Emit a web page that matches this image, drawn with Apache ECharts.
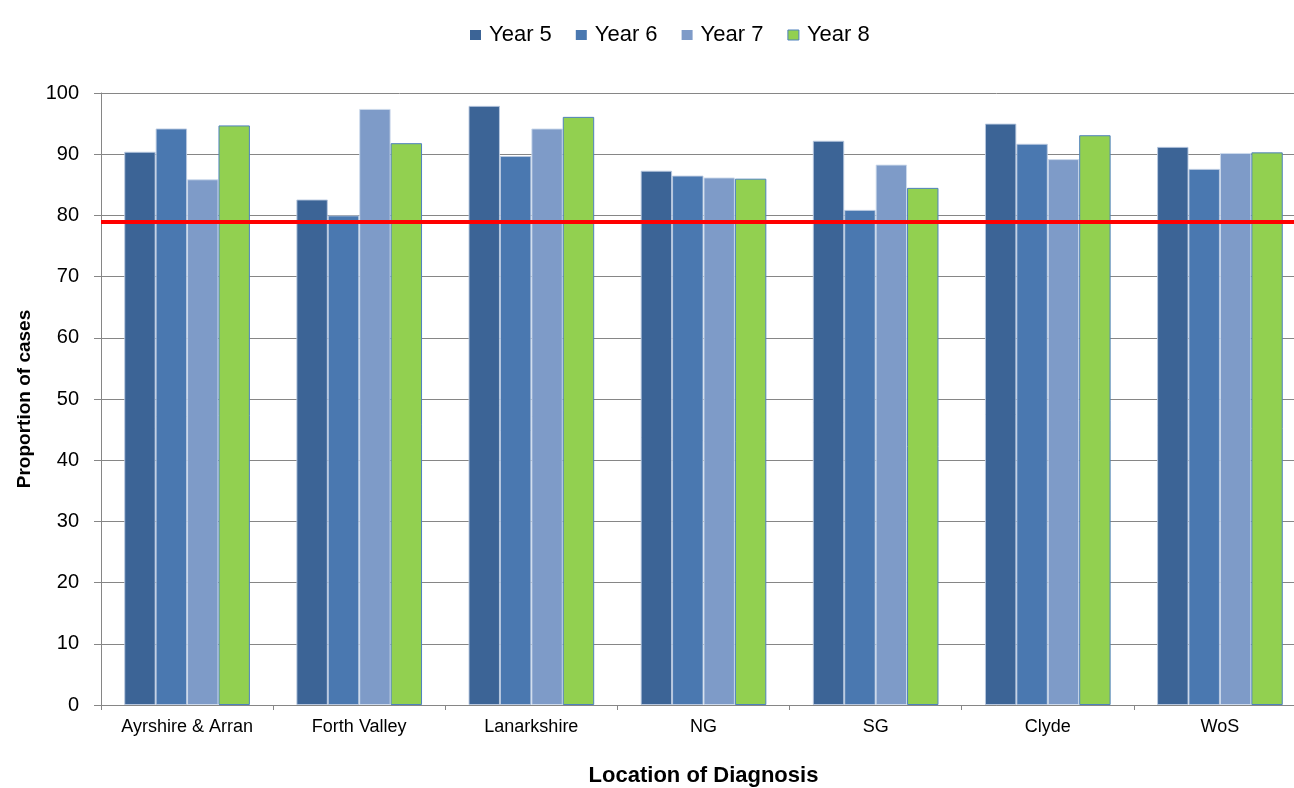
<!DOCTYPE html>
<html>
<head>
<meta charset="utf-8">
<title>Proportion of cases by location of diagnosis</title>
<script src="https://cdn.jsdelivr.net/npm/echarts@6/dist/echarts.min.js"></script>
<style>
  html, body { margin: 0; padding: 0; background: #ffffff; }
  #chart { width: 1294px; height: 788px; }
</style>
</head>
<body>
<div id="chart"></div>
<script>
// Locations along the x axis
const categories = ['Ayrshire & Arran', 'Forth Valley', 'Lanarkshire', 'NG', 'SG', 'Clyde', 'WoS'];

// Proportion of cases per year (%)
const year5 = [90.4, 82.6, 97.9, 87.3, 92.2, 95.0, 91.2];
const year6 = [94.2, 80.0, 89.7, 86.5, 80.9, 91.7, 87.6];
const year7 = [85.9, 97.4, 94.2, 86.2, 88.3, 89.2, 90.2];
const year8 = [94.7, 91.8, 96.1, 86.0, 84.5, 93.1, 90.3];

// Target proportion drawn as a horizontal reference line
const target = 79;

// Value axis range
const yMin = 0;
const yMax = 100;
const yStep = 10;

const font = '"Liberation Sans", Arial, sans-serif';
const gridGrey = '#868686';

const seriesDefs = [
  { name: 'Year 5', data: year5, color: '#3C6496', border: 'rgba(185,201,224,0.9)' },
  { name: 'Year 6', data: year6, color: '#4A78B0', border: 'rgba(185,201,224,0.9)' },
  { name: 'Year 7', data: year7, color: '#7E9BC8', border: 'rgba(205,218,236,0.9)' },
  { name: 'Year 8', data: year8, color: '#92D050', border: '#4F81BD' }
];

const series = seriesDefs.map((s, i) => {
  const item = {
    name: s.name,
    type: 'bar',
    data: s.data,
    barGap: '0%',
    barCategoryGap: '27%',
    itemStyle: { color: s.color, borderColor: s.border, borderWidth: 1 },
    emphasis: { disabled: true }
  };
  if (i === seriesDefs.length - 1) {
    item.markLine = {
      silent: true,
      symbol: ['none', 'none'],
      label: { show: false },
      lineStyle: { color: '#FF0000', width: 4, type: 'solid' },
      emphasis: { disabled: true },
      z: 10,
      data: [{ yAxis: target }]
    };
  }
  return item;
});

const chart = echarts.init(document.getElementById('chart'), null, { renderer: 'canvas' });
chart.setOption({
  animation: false,
  backgroundColor: '#ffffff',
  textStyle: { fontFamily: font },
  legend: {
    top: 19,
    left: 465,
    itemWidth: 11,
    itemHeight: 10,
    itemGap: 24,
    icon: 'rect',
    textStyle: { fontFamily: font, fontSize: 22, color: '#000000', padding: [0, 0, 0, 3] },
    data: seriesDefs.map((s, i) => ({
      name: s.name,
      itemStyle: i === seriesDefs.length - 1
        ? { borderColor: s.border, borderWidth: 1 }
        : { borderWidth: 0 }
    }))
  },
  grid: {
    left: 101,
    top: 93,
    width: 1205,
    height: 612,
    containLabel: false,
    outerBoundsMode: 'none'
  },
  xAxis: {
    type: 'category',
    data: categories,
    name: 'Location of Diagnosis',
    nameLocation: 'middle',
    nameGap: 60,
    nameTextStyle: { fontFamily: font, fontSize: 22, fontWeight: 'bold', color: '#000000' },
    axisLine: { show: true, lineStyle: { color: gridGrey, width: 1 } },
    axisTick: { show: true, alignWithLabel: false, length: 5, lineStyle: { color: gridGrey } },
    axisLabel: { margin: 13, fontFamily: font, fontSize: 18, color: '#000000', interval: 0 },
    splitLine: { show: false }
  },
  yAxis: {
    type: 'value',
    min: yMin,
    max: yMax,
    interval: yStep,
    name: 'Proportion of cases',
    nameLocation: 'middle',
    nameGap: 66,
    nameRotate: 90,
    nameTextStyle: { fontFamily: font, fontSize: 19, fontWeight: 'bold', color: '#000000' },
    axisLine: { show: true, lineStyle: { color: gridGrey, width: 1 } },
    axisTick: { show: true, inside: false, length: 7, lineStyle: { color: gridGrey } },
    axisLabel: { margin: 22, fontFamily: font, fontSize: 20, color: '#000000' },
    splitLine: { show: true, lineStyle: { color: gridGrey, width: 1 } }
  },
  series: series
});
</script>
</body>
</html>
